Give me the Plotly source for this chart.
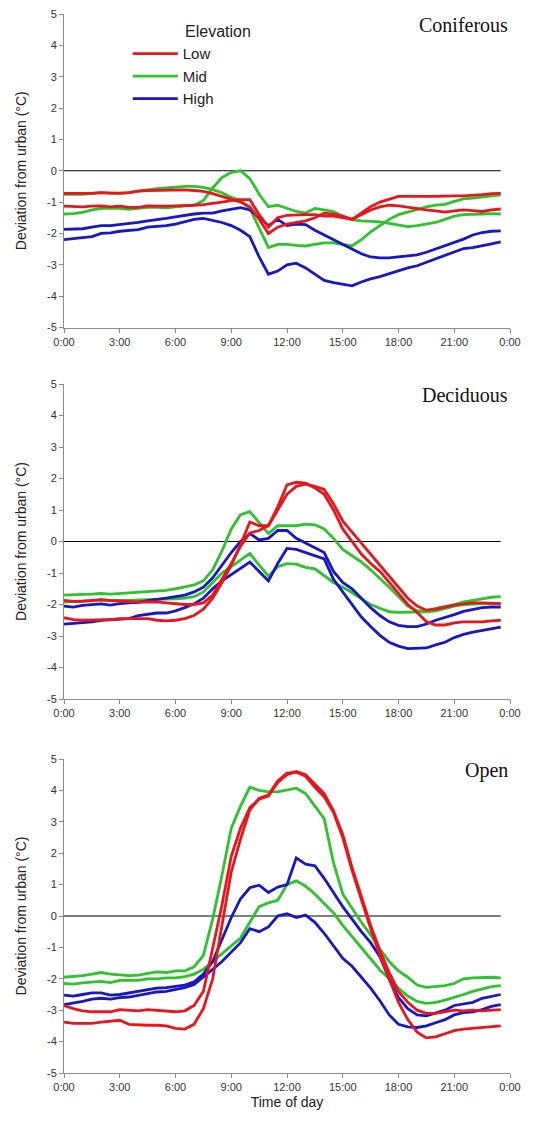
import plotly.graph_objects as go

# ---------------- data ----------------
hours = [i * 0.5 for i in range(48)]  # 0:00 ... 23:30, half-hourly

x_tick_vals = [0, 3, 6, 9, 12, 15, 18, 21, 24]
x_tick_text = ["0:00", "3:00", "6:00", "9:00", "12:00", "15:00", "18:00", "21:00", "0:00"]
y_tick_vals = [-5, -4, -3, -2, -1, 0, 1, 2, 3, 4, 5]
y_tick_text = ["-5", "-4", "-3", "-2", "-1", "0", "1", "2", "3", "4", "5"]

panel_names = ["Coniferous", "Deciduous", "Open"]
elevations = ["Low", "Mid", "High"]

# Coniferous
con_low_a = [-0.72,-0.72,-0.73,-0.72,-0.70,-0.72,-0.72,-0.70,-0.65,-0.63,-0.62,-0.61,-0.60,-0.61,-0.63,-0.66,-0.73,-0.82,-0.92,-1.00,-1.15,-1.55,-2.00,-1.80,-1.70,-1.65,-1.60,-1.50,-1.35,-1.38,-1.45,-1.55,-1.35,-1.15,-1.00,-0.90,-0.82,-0.82,-0.83,-0.82,-0.82,-0.80,-0.80,-0.80,-0.79,-0.76,-0.73,-0.72]
con_low_b = [-1.13,-1.15,-1.15,-1.13,-1.12,-1.15,-1.13,-1.17,-1.17,-1.12,-1.13,-1.13,-1.12,-1.12,-1.10,-1.08,-1.05,-1.00,-0.95,-0.92,-0.92,-1.40,-1.80,-1.50,-1.42,-1.40,-1.40,-1.40,-1.45,-1.45,-1.50,-1.55,-1.40,-1.25,-1.15,-1.10,-1.12,-1.17,-1.20,-1.25,-1.28,-1.32,-1.28,-1.25,-1.27,-1.30,-1.25,-1.22]
con_mid_a = [-1.38,-1.37,-1.33,-1.25,-1.20,-1.20,-1.20,-1.23,-1.20,-1.17,-1.17,-1.18,-1.15,-1.12,-1.10,-0.95,-0.55,-0.22,-0.05,0.00,-0.25,-0.75,-1.15,-1.10,-1.20,-1.30,-1.35,-1.20,-1.25,-1.30,-1.45,-1.57,-1.60,-1.62,-1.63,-1.68,-1.72,-1.78,-1.75,-1.70,-1.65,-1.55,-1.45,-1.40,-1.40,-1.38,-1.37,-1.38]
con_mid_b = [-0.75,-0.75,-0.75,-0.72,-0.70,-0.72,-0.72,-0.70,-0.65,-0.60,-0.57,-0.55,-0.52,-0.50,-0.50,-0.53,-0.60,-0.70,-0.85,-0.95,-1.20,-1.80,-2.45,-2.35,-2.35,-2.38,-2.40,-2.35,-2.30,-2.30,-2.35,-2.40,-2.20,-1.95,-1.75,-1.55,-1.40,-1.32,-1.25,-1.15,-1.10,-1.07,-0.98,-0.90,-0.87,-0.84,-0.80,-0.77]
con_high_a = [-1.87,-1.87,-1.85,-1.80,-1.75,-1.75,-1.72,-1.70,-1.65,-1.60,-1.57,-1.52,-1.47,-1.42,-1.38,-1.35,-1.35,-1.28,-1.22,-1.18,-1.25,-1.50,-1.75,-1.55,-1.75,-1.70,-1.72,-1.90,-2.05,-2.20,-2.35,-2.50,-2.65,-2.75,-2.78,-2.78,-2.75,-2.72,-2.68,-2.60,-2.50,-2.38,-2.28,-2.18,-2.05,-1.97,-1.93,-1.92]
con_high_b = [-2.20,-2.17,-2.12,-2.10,-2.00,-1.98,-1.93,-1.90,-1.88,-1.80,-1.78,-1.75,-1.70,-1.62,-1.55,-1.52,-1.58,-1.65,-1.75,-1.90,-2.10,-2.75,-3.30,-3.20,-3.00,-2.95,-3.10,-3.30,-3.50,-3.57,-3.62,-3.67,-3.55,-3.45,-3.38,-3.28,-3.18,-3.10,-3.03,-2.92,-2.82,-2.72,-2.60,-2.48,-2.45,-2.40,-2.33,-2.27]

# Deciduous
dec_low_a = [-1.87,-1.90,-1.90,-1.88,-1.85,-1.88,-1.90,-1.90,-1.92,-1.92,-1.92,-1.95,-1.98,-2.00,-2.00,-1.95,-1.70,-1.20,-0.70,-0.15,0.27,0.35,0.50,1.00,1.50,1.75,1.82,1.75,1.65,1.20,0.65,0.30,-0.05,-0.40,-0.75,-1.10,-1.45,-1.80,-2.05,-2.18,-2.15,-2.08,-2.02,-1.98,-1.95,-1.95,-1.95,-1.97]
dec_low_b = [-2.42,-2.48,-2.50,-2.50,-2.50,-2.48,-2.45,-2.45,-2.43,-2.45,-2.50,-2.52,-2.50,-2.45,-2.35,-2.15,-1.80,-1.30,-0.75,-0.10,0.62,0.50,0.50,1.10,1.80,1.88,1.85,1.70,1.50,1.00,0.40,0.00,-0.40,-0.70,-0.95,-1.30,-1.65,-2.00,-2.25,-2.55,-2.65,-2.65,-2.58,-2.55,-2.55,-2.55,-2.52,-2.50]
dec_mid_a = [-1.70,-1.68,-1.68,-1.67,-1.65,-1.67,-1.65,-1.65,-1.63,-1.60,-1.58,-1.55,-1.50,-1.45,-1.38,-1.25,-0.90,-0.30,0.40,0.85,0.95,0.60,0.25,0.50,0.50,0.50,0.55,0.53,0.40,0.10,-0.25,-0.45,-0.65,-0.90,-1.17,-1.45,-1.75,-2.05,-2.20,-2.20,-2.12,-2.07,-2.00,-1.92,-1.88,-1.82,-1.77,-1.75]
dec_mid_b = [-1.92,-1.90,-1.88,-1.87,-1.85,-1.87,-1.88,-1.87,-1.85,-1.85,-1.85,-1.83,-1.82,-1.80,-1.75,-1.60,-1.30,-1.00,-0.80,-0.60,-0.38,-0.75,-1.10,-0.80,-0.70,-0.72,-0.82,-0.87,-1.10,-1.30,-1.45,-1.62,-1.82,-2.00,-2.12,-2.23,-2.25,-2.25,-2.25,-2.23,-2.20,-2.12,-2.05,-2.00,-1.98,-1.97,-1.97,-1.97]
dec_high_a = [-2.05,-2.08,-2.03,-2.00,-1.98,-2.02,-1.97,-1.95,-1.93,-1.88,-1.85,-1.80,-1.75,-1.70,-1.60,-1.45,-1.15,-0.75,-0.35,0.00,0.25,0.05,0.10,0.35,0.35,0.10,-0.05,-0.20,-0.35,-0.95,-1.30,-1.50,-1.80,-2.10,-2.35,-2.55,-2.66,-2.70,-2.70,-2.62,-2.50,-2.42,-2.32,-2.22,-2.15,-2.10,-2.08,-2.08]
dec_high_b = [-2.62,-2.60,-2.58,-2.55,-2.50,-2.48,-2.45,-2.45,-2.35,-2.30,-2.27,-2.27,-2.20,-2.10,-1.98,-1.80,-1.50,-1.25,-1.05,-0.85,-0.65,-0.95,-1.25,-0.70,-0.22,-0.25,-0.35,-0.45,-0.55,-1.20,-1.60,-2.00,-2.40,-2.70,-2.98,-3.20,-3.32,-3.40,-3.40,-3.38,-3.28,-3.20,-3.05,-2.95,-2.88,-2.82,-2.77,-2.72]

# Open
open_low_a = [-2.85,-2.95,-3.02,-3.05,-3.05,-3.05,-2.98,-3.00,-3.02,-2.98,-3.00,-3.03,-3.05,-3.02,-2.85,-2.40,-1.05,0.35,1.90,2.80,3.45,3.72,3.82,4.25,4.50,4.60,4.50,4.20,3.90,3.35,2.60,1.55,0.60,-0.30,-1.10,-1.80,-2.40,-2.75,-3.00,-3.10,-3.10,-3.05,-3.00,-3.02,-3.00,-3.02,-3.00,-2.98]
open_low_b = [-3.38,-3.42,-3.42,-3.42,-3.38,-3.35,-3.32,-3.45,-3.47,-3.48,-3.48,-3.50,-3.58,-3.60,-3.45,-2.95,-2.00,-0.25,1.40,2.45,3.38,3.75,3.85,4.30,4.55,4.58,4.45,4.10,3.80,3.30,2.50,1.45,0.50,-0.40,-1.25,-2.00,-2.75,-3.30,-3.70,-3.88,-3.85,-3.75,-3.65,-3.60,-3.57,-3.55,-3.52,-3.50]
open_mid_a = [-1.95,-1.93,-1.90,-1.85,-1.80,-1.85,-1.87,-1.90,-1.88,-1.82,-1.78,-1.80,-1.75,-1.75,-1.62,-1.25,-0.10,1.30,2.80,3.50,4.10,4.00,3.95,3.95,4.02,4.07,3.90,3.50,3.10,1.70,0.70,0.25,-0.20,-0.60,-1.05,-1.45,-1.75,-1.95,-2.20,-2.27,-2.25,-2.22,-2.15,-2.00,-1.97,-1.95,-1.95,-1.97]
open_mid_b = [-2.15,-2.17,-2.13,-2.10,-2.08,-2.12,-2.05,-2.05,-2.05,-2.00,-2.00,-1.97,-1.97,-1.93,-1.85,-1.70,-1.45,-1.20,-0.95,-0.70,-0.20,0.30,0.42,0.50,1.00,1.12,0.95,0.70,0.40,0.10,-0.30,-0.65,-1.00,-1.35,-1.72,-2.00,-2.30,-2.55,-2.72,-2.78,-2.75,-2.68,-2.60,-2.50,-2.40,-2.33,-2.25,-2.22]
open_high_a = [-2.52,-2.55,-2.50,-2.45,-2.45,-2.52,-2.50,-2.45,-2.40,-2.35,-2.30,-2.28,-2.25,-2.20,-2.10,-1.85,-1.45,-0.75,-0.05,0.55,0.90,0.98,0.75,0.92,1.00,1.85,1.65,1.60,1.20,0.75,0.30,-0.10,-0.50,-0.85,-1.30,-2.00,-2.60,-2.95,-3.15,-3.18,-3.10,-3.00,-2.85,-2.80,-2.75,-2.62,-2.55,-2.50]
open_high_b = [-2.82,-2.78,-2.72,-2.65,-2.62,-2.65,-2.60,-2.58,-2.52,-2.48,-2.42,-2.40,-2.35,-2.28,-2.18,-1.95,-1.70,-1.45,-1.15,-0.85,-0.40,-0.50,-0.35,0.00,0.07,-0.05,0.03,-0.20,-0.55,-0.95,-1.35,-1.60,-1.95,-2.30,-2.70,-3.15,-3.45,-3.53,-3.55,-3.50,-3.40,-3.30,-3.15,-3.08,-3.05,-2.98,-2.88,-2.82]

panel_series = [
    {"Low": [con_low_a, con_low_b], "Mid": [con_mid_a, con_mid_b], "High": [con_high_a, con_high_b]},
    {"Low": [dec_low_a, dec_low_b], "Mid": [dec_mid_a, dec_mid_b], "High": [dec_high_a, dec_high_b]},
    {"Low": [open_low_a, open_low_b], "Mid": [open_mid_a, open_mid_b], "High": [open_high_a, open_high_b]},
]

# ---------------- style ----------------
colors = {"Low": "#e8161c", "Mid": "#2ec22e", "High": "#1717c4"}
draw_order = ["Mid", "High", "Low"]
axis_grey = "#8c8c8c"
text_col = "#222222"
sans = "Liberation Sans, Arial, sans-serif"

# The page body has an 8px default margin, so the figure is sized to fill the rest.
OFF = 8
W, H = 536 - OFF, 1121 - OFF
m_l, m_r, m_t, m_b = 64 - OFF, 26, 14 - OFF, 48
pw = W - m_l - m_r
ph = H - m_t - m_b
plot_bottom_page = OFF + H - m_b

def dom(top_px, bot_px):
    return [(plot_bottom_page - bot_px) / ph, (plot_bottom_page - top_px) / ph]

domains = [dom(14, 327.5), dom(384, 699), dom(759, 1073)]

fig = go.Figure()
legend_done = set()
for p in range(3):
    xa = "x" if p == 0 else f"x{p+1}"
    ya = "y" if p == 0 else f"y{p+1}"
    for elev in draw_order:
        for s in panel_series[p][elev]:
            show = elev not in legend_done
            legend_done.add(elev)
            fig.add_trace(go.Scatter(
                x=hours, y=s, mode="lines", xaxis=xa, yaxis=ya,
                line=dict(color=colors[elev], width=2.8),
                name=elev, legendgroup=elev, showlegend=show,
                legendrank={"Low": 1, "Mid": 2, "High": 3}[elev],
            ))
    # zero reference line
    fig.add_shape(type="line", xref=xa, yref=ya, x0=hours[0], x1=hours[-1], y0=0, y1=0,
                  line=dict(color="#000000", width=1.2), layer="below")
    fig.add_annotation(text=panel_names[p], xref=f"{xa} domain", yref=f"{ya} domain",
                       x=1.0, y=1.0, xanchor="right", yanchor="middle", yshift=-11,
                       showarrow=False,
                       font=dict(family="Liberation Serif, Times New Roman, serif", size=20, color="#111111"))

axis_common = dict(showline=True, linecolor=axis_grey, linewidth=1, ticks="outside",
                   ticklen=4, tickcolor=axis_grey, tickwidth=1, showgrid=False, zeroline=False,
                   automargin=False, ticklabeloverflow="allow",
                   tickfont=dict(family=sans, size=11, color="#333333"))

layout_axes = {}
for p in range(3):
    xk = "xaxis" if p == 0 else f"xaxis{p+1}"
    yk = "yaxis" if p == 0 else f"yaxis{p+1}"
    ya = "y" if p == 0 else f"y{p+1}"
    xa = "x" if p == 0 else f"x{p+1}"
    layout_axes[xk] = dict(axis_common, domain=[0, 1], anchor=ya, range=[0, 24],
                           tickvals=x_tick_vals, ticktext=x_tick_text)
    layout_axes[yk] = dict(axis_common, domain=domains[p], anchor=xa, range=[-5, 5],
                           tickvals=y_tick_vals, ticktext=y_tick_text,
                           title=dict(text="Deviation from urban (°C)", standoff=17,
                                      font=dict(family=sans, size=14, color=text_col)))
layout_axes["xaxis3"]["title"] = dict(text="Time of day", standoff=4,
                                      font=dict(family=sans, size=14, color=text_col))

fig.update_layout(
    width=W, height=H,
    margin=dict(l=m_l, r=m_r, t=m_t, b=m_b),
    paper_bgcolor="white", plot_bgcolor="white",
    showlegend=True,
    legend=dict(x=0.143, y=0.978, xanchor="left", yanchor="top",
                bgcolor="rgba(0,0,0,0)", itemwidth=45, tracegroupgap=0,
                font=dict(family=sans, size=15, color=text_col)),
    **layout_axes,
)
fig.add_annotation(text="Elevation", xref="paper", yref="paper",
                   x=(183 - 64) / pw, y=(plot_bottom_page - 32) / ph,
                   xanchor="left", yanchor="middle", showarrow=False,
                   font=dict(family=sans, size=16, color=text_col))

fig.write_html("out.html")
